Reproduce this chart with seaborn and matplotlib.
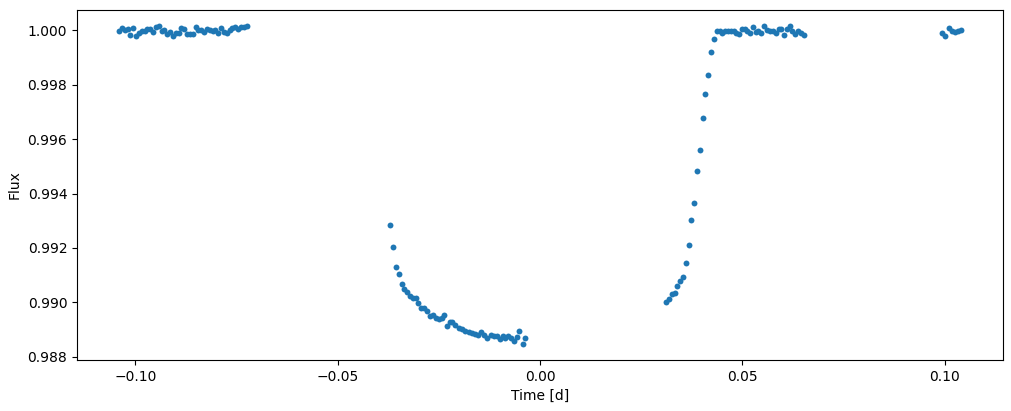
import numpy as np
import pandas as pd
import matplotlib
matplotlib.use("Agg")
import matplotlib.pyplot as plt
import seaborn as sns

# out-of-transit, before
time1 = [-0.1040, -0.1033, -0.1026, -0.1019, -0.1012, -0.1005, -0.0998, -0.0991, -0.0984, -0.0977,
         -0.0970, -0.0963, -0.0956, -0.0949, -0.0942, -0.0935, -0.0928, -0.0921, -0.0914, -0.0907,
         -0.0900, -0.0893, -0.0886, -0.0879, -0.0872, -0.0865, -0.0858, -0.0851, -0.0844, -0.0837,
         -0.0830, -0.0823, -0.0816, -0.0809, -0.0802, -0.0795, -0.0788, -0.0781, -0.0774, -0.0767,
         -0.0760, -0.0753, -0.0746, -0.0739, -0.0732, -0.0725]
flux1 = [0.99996, 1.00007, 0.99999, 1.00005, 0.99982, 1.00008, 0.99980, 0.99988, 0.99995, 0.99998,
         1.00003, 1.00004, 0.99993, 1.00012, 1.00016, 0.99996, 1.00001, 0.99985, 0.99992, 0.99978,
         0.99990, 0.99991, 1.00009, 1.00006, 0.99985, 0.99986, 0.99984, 1.00010, 1.00002, 1.00001,
         0.99992, 1.00003, 1.00001, 0.99997, 0.99999, 0.99988, 1.00008, 0.99993, 0.99991, 1.00000,
         1.00009, 1.00010, 1.00006, 1.00012, 1.00010, 1.00016]

# in transit
time2 = [-0.03713, -0.03631, -0.03557, -0.03483, -0.03408, -0.03359, -0.03285, -0.03210, -0.03136,
         -0.03062, -0.03012, -0.02938, -0.02864, -0.02790, -0.02715, -0.02641, -0.02567, -0.02493,
         -0.02418, -0.02369, -0.02302, -0.02228, -0.02166, -0.02104, -0.02005, -0.01931, -0.01844,
         -0.01757, -0.01683, -0.01597, -0.01522, -0.01448, -0.01374, -0.01300, -0.01213, -0.01139,
         -0.01052, -0.00990, -0.00916, -0.00854, -0.00780, -0.00718, -0.00656, -0.00582, -0.00520,
         -0.00433, -0.00371]
flux2 = [0.99284, 0.99205, 0.99131, 0.99105, 0.99068, 0.99050, 0.99039, 0.99024, 0.99017,
         0.99017, 0.98998, 0.98980, 0.98980, 0.98969, 0.98950, 0.98954, 0.98943, 0.98939,
         0.98943, 0.98955, 0.98915, 0.98927, 0.98927, 0.98917, 0.98907, 0.98902, 0.98897,
         0.98892, 0.98886, 0.98884, 0.98881, 0.98890, 0.98882, 0.98871, 0.98880, 0.98878,
         0.98875, 0.98865, 0.98876, 0.98870, 0.98878, 0.98868, 0.98858, 0.98873, 0.98895,
         0.98847, 0.98868]

# egress + out-of-transit after
time3 = [0.03101, 0.03176, 0.03250, 0.03324, 0.03374, 0.03448, 0.03522, 0.03597, 0.03671, 0.03720,
         0.03795, 0.03869, 0.03943, 0.04017, 0.04067, 0.04141, 0.04215, 0.04290,
         0.04364, 0.04438, 0.04488, 0.04562, 0.04636, 0.04710, 0.04785, 0.04834, 0.04908, 0.04983,
         0.05057, 0.05116, 0.05181, 0.05255, 0.05329, 0.05379, 0.05453, 0.05527, 0.05601, 0.05676,
         0.05750, 0.05824, 0.05899, 0.05958, 0.06022, 0.06097, 0.06171, 0.06220, 0.06295, 0.06369,
         0.06443, 0.06517]
flux3 = [0.99002, 0.99013, 0.99032, 0.99035, 0.99061, 0.99080, 0.99094, 0.99146, 0.99212, 0.99301,
         0.99364, 0.99482, 0.99560, 0.99678, 0.99766, 0.99836, 0.99921, 0.99966,
         0.99995, 0.99997, 0.99990, 0.99997, 0.99995, 0.99997, 0.99995, 0.99990, 0.99985, 1.00006,
         1.00006, 0.99997, 0.99990, 1.00011, 0.99993, 0.99997, 0.99988, 1.00014, 1.00000, 0.99997,
         0.99995, 0.99990, 1.00004, 1.00006, 0.99983, 1.00004, 1.00014, 0.99997, 0.99985, 0.99995,
         0.99990, 0.99983]

time4 = [0.09938, 0.10012, 0.10099, 0.10173, 0.10248, 0.10322, 0.10396]
flux4 = [0.99988, 0.99978, 1.00008, 0.99998, 0.99993, 0.99998, 1.00000]

df = pd.DataFrame({
    "time": time1 + time2 + time3 + time4,
    "flux": flux1 + flux2 + flux3 + flux4,
})

fig, ax = plt.subplots(figsize=(10.11, 4.11), dpi=100)
fig.subplots_adjust(left=0.0762, right=0.992, bottom=0.124, top=0.976)
sns.scatterplot(data=df, x="time", y="flux", ax=ax, s=18, linewidth=0, color="C0")
ax.set_xlabel("Time [d]")
ax.set_ylabel("Flux")
fig.savefig("out.png", dpi=100)
